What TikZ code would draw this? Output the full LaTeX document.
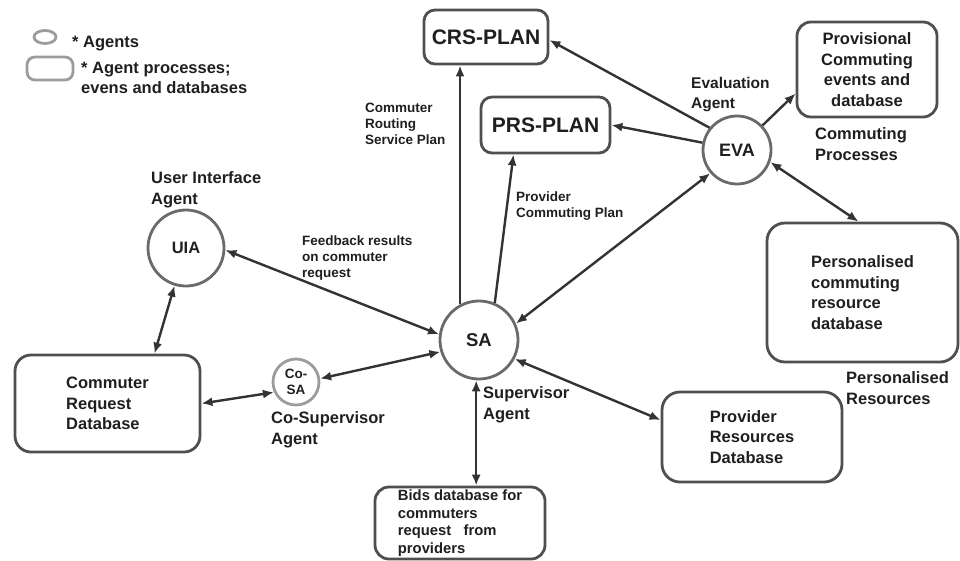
\documentclass[tikz,border=0pt]{standalone}
\usepackage{fontspec}
\setmainfont{Liberation Sans}
\usepackage{xcolor}
\usepackage{tikz}
\usetikzlibrary{shapes.geometric,arrows.meta,calc}

\definecolor{boxgray}{HTML}{4F4F4F}
\definecolor{agentgray}{HTML}{6A6A6A}
\definecolor{lightgray}{HTML}{9C9C9C}
\definecolor{linkgray}{HTML}{333333}

\begin{document}
\begin{tikzpicture}[
            x=1pt, y=-1pt,
            >={Latex[length=11pt,width=9pt]},
            every node/.style={font=\bfseries\fontsize{16.5}{20.5}\selectfont, text=black!88, inner sep=0pt, align=left},
            box/.style={draw=boxgray, line width=2.8pt, rounded corners=14pt},
            agent/.style={draw=agentgray, line width=2.8pt, circle},
            lbl/.style={anchor=west},
            small/.style={font=\bfseries\fontsize{13.5}{15.8}\selectfont},
            link/.style={draw=linkgray, line width=2.4pt},
        ]
            \useasboundingbox (0,0) rectangle (960,560);
            % legend
            \node[ellipse, draw=lightgray, line width=2.8pt, minimum width=22pt, minimum height=13pt] (legag) at (45,37) {};
            \node[anchor=base west] (legagtxt) at (72,47) {* Agents};
            \node[draw=lightgray, line width=2.8pt, rounded corners=8pt, minimum width=46pt, minimum height=23pt] (legbox) at (50,68.5) {};
            \node[lbl] (legboxtxt) at (81,78) {* Agent processes;\\evens and databases};
            % plans and databases
            \node[box, rounded corners=11pt, minimum width=124pt, minimum height=54pt, font=\bfseries\fontsize{21}{25}\selectfont] (crs) at (486,37) {CRS-PLAN};
            \node[box, rounded corners=11pt, minimum width=129pt, minimum height=56pt, font=\bfseries\fontsize{21}{25}\selectfont] (prs) at (545.5,125) {PRS-PLAN};
            \node[box, align=center, minimum width=140pt, minimum height=95pt] (prov) at (867,69.5) {Provisional\\Commuting\\events and\\database};
            \node[box, rounded corners=18pt, minimum width=191pt, minimum height=139pt] (pers) at (862.5,292.5) {Personalised\\commuting\\resource\\database};
            \node[box, rounded corners=18pt, minimum width=180pt, minimum height=90pt] (provres) at (752,437) {Provider\\Resources\\Database};
            \node[box, minimum width=170pt, minimum height=72pt, font=\bfseries\fontsize{14.8}{17.5}\selectfont] (bids) at (460,523) {Bids database for\\commuters\\request~~ from\\providers};
            \node[box, rounded corners=16pt, minimum width=185pt, minimum height=97pt] (crd) at (107.5,403.5) {Commuter\\Request\\Database};
            % agents
            \node[agent, minimum size=76pt] (uia) at (186,248) {UIA};
            \node[agent, minimum size=78pt, font=\bfseries\fontsize{18.5}{22}\selectfont] (sa) at (479,340) {SA};
            \node[agent, minimum size=68pt, font=\bfseries\fontsize{18}{22}\selectfont] (eva) at (737,150) {EVA};
            \node[agent, draw=lightgray, minimum size=46pt, align=center, small] (cosa) at (296,382) {Co-\\SA};
            % labels
            \node[lbl] (uialbl) at (151,190) {User Interface\\Agent};
            \node[lbl, small] (fbklbl) at (302,258) {Feedback results\\on commuter\\request};
            \node[lbl, small] (crslbl) at (365,124) {Commuter\\Routing\\Service Plan};
            \node[lbl, small] (prslbl) at (516,206) {Provider\\Commuting Plan};
            \node[lbl, font=\bfseries\fontsize{15.5}{20}\selectfont] (evalbl) at (691,95) {Evaluation\\Agent};
            \node[lbl] (proclbl) at (815,144) {Commuting\\Processes};
            \node[lbl] (perslbl) at (846,388) {Personalised\\Resources};
            \node[lbl] (salbl) at (483,405) {Supervisor\\Agent};
            \node[lbl] (cosalbl) at (271,430) {Co-Supervisor\\Agent};
            % connectors
            \draw[link,->] (sa.118) -- (sa.118 |- crs.south);
            \draw[link,->] (sa.67) -- ([xshift=-32pt]prs.south);
            \draw[link,<->] (sa.24) -- (eva.221);
            \draw[link,->] (eva.141) -- ([yshift=-3pt]crs.east);
            \draw[link,->] (eva.168) -- (prs.east);
            \draw[link,->] (eva.44) -- ([yshift=-24pt]prov.west);
            \draw[link,<->] (eva.-20) -- ([xshift=-4pt]pers.north);
            \draw[link,<->] (sa.-28) -- ([yshift=17pt]provres.west);
            \draw[link,<->] (sa.-94) -- (sa.-94 |- bids.north);
            \draw[link,<->] (cosa.8) -- (sa.197);
            \draw[link,<->] (crd.east) -- (cosa.205);
            \draw[link,<->] (uia.-107) -- ([xshift=47pt]crd.north);
            \draw[link,<->] (uia.-3) -- (sa.172);
        \end{tikzpicture}
\end{document}
